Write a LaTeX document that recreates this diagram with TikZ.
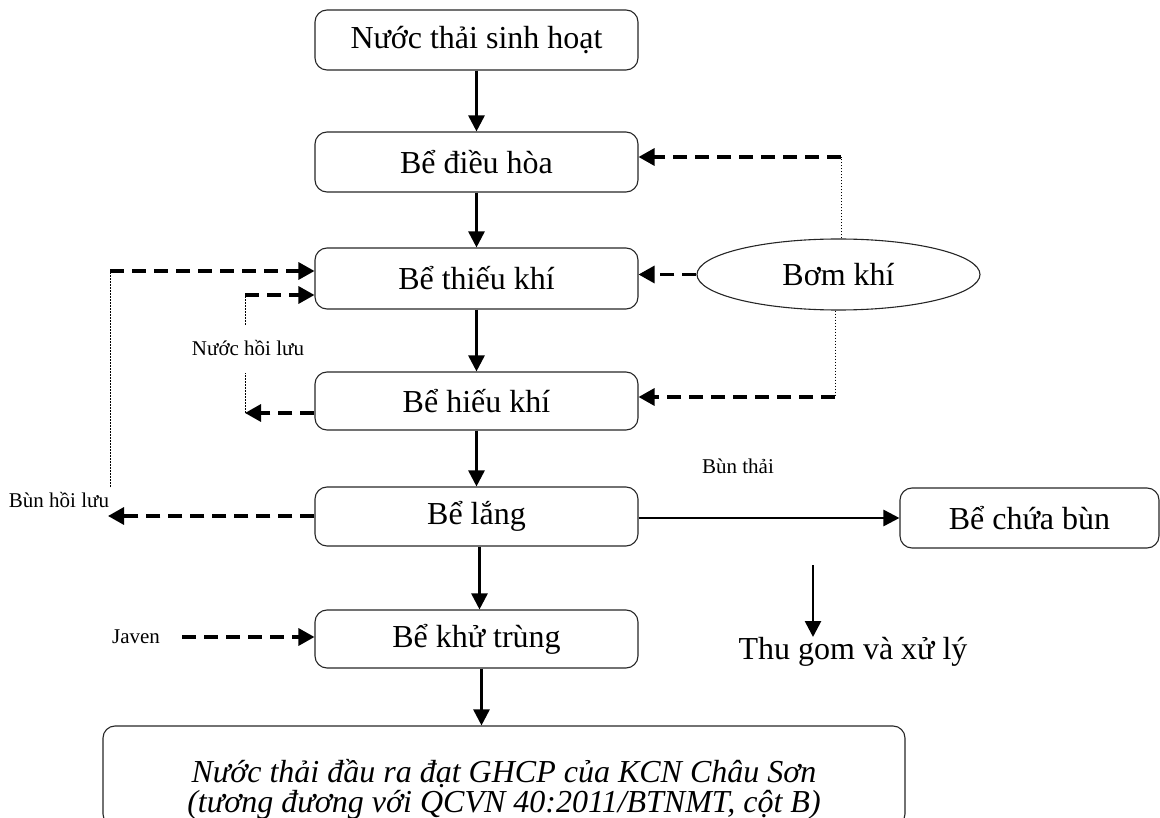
\documentclass[tikz,border=0pt]{standalone}
\usepackage{fontspec}
\setmainfont{Liberation Serif}
\usetikzlibrary{arrows.meta,shapes.geometric}
\tikzset{
  box/.style={draw=black!85, line width=1.1pt, rounded corners=12pt, minimum width=323pt, minimum height=60pt, inner sep=0pt, font=\fontsize{32}{36}\selectfont},
  solidarrow/.style={line width=2.7pt, -{Triangle[length=16pt,width=16pt]}},
  dasharrow/.style={line width=3.2pt, dash pattern=on 14pt off 8pt, -{Triangle[length=16pt,width=17pt]}},
  dotline/.style={line width=0.8pt, dash pattern=on 1.6pt off 1.4pt},
  small/.style={font=\fontsize{21}{24}\selectfont, inner sep=0pt},
  big/.style={font=\fontsize{32}{36}\selectfont, inner sep=0pt}
}
\begin{document}
\begin{tikzpicture}[x=1pt,y=-1pt]
\useasboundingbox (0,0) rectangle (1160,818);
% main boxes
\node[box] (b1) at (476.5,40) {Nước thải sinh hoạt};
\node[box] (b2) at (476.5,162) {Bể điều hòa};
\node[box, minimum height=61pt] (b3) at (476.5,278.5) {Bể thiếu khí};
\node[box, minimum height=58pt] (b4) at (476.5,401) {Bể hiếu khí};
\node[box, minimum height=59pt] (b5) at (476.5,516.5) {Bể lắng};
\node[box, minimum height=58pt] (b6) at (476.5,639) {Bể khử trùng};
\node[box, minimum width=802pt, minimum height=100pt] (b7) at (504,776) {};
\node[inner sep=0pt, font=\itshape\fontsize{32}{30}\selectfont, align=center] (b7t) at (504,789) {Nước thải đầu ra đạt GHCP của KCN Châu Sơn\\(tương đương với QCVN 40:2011/BTNMT, cột B)};
\node[box, minimum width=259pt] (b8) at (1029.5,518) {Bể chứa bùn};
\node[draw=black!85, line width=1.1pt, ellipse, minimum width=283pt, minimum height=71pt, inner sep=0pt, big] (pump) at (838.5,274.5) {Bơm khí};
% labels
\node[small] (lnuoc) at (248,348) {Nước hồi lưu};
\node[small] (lbun) at (59,500) {Bùn hồi lưu};
\node[small] (ljaven) at (136,637) {Javen};
\node[small] (lbunthai) at (738,466) {Bùn thải};
\node[big] (thu) at (853,652) {Thu gom và xử lý};
% main flow
\draw[solidarrow] (b1.south) -- (b2.north);
\draw[solidarrow] (b2.south) -- (b3.north);
\draw[solidarrow] (b3.south) -- (b4.north);
\draw[solidarrow] (b4.south) -- (b5.north);
\draw[solidarrow] ([xshift=3pt]b5.south) -- ([xshift=3pt]b6.north);
\draw[solidarrow] ([xshift=5pt]b6.south) -- ([xshift=5pt]b6.south |- b7.north);
\draw[solidarrow] (b5.east |- b8.west) -- (b8.west);
\coordinate (t1) at (813,565);
\coordinate (t2) at (813,637);
\draw[solidarrow] (t1) -- (t2);
% air pump
\coordinate (p2) at (841,157);
\draw[dotline] (pump.north -| p2) -- (p2);
\draw[dasharrow] (p2) -- (b2.east |- p2);
\draw[dasharrow] (pump.west) -- (b3.east |- pump.west);
\coordinate (p4) at (835,397);
\draw[dotline] (pump.south -| p4) -- (p4);
\draw[dasharrow] (p4) -- (b4.east |- p4);
% sludge return
\coordinate (r1) at (108,516);
\coordinate (r2) at (110,487);
\coordinate (r3) at (110,271);
\draw[dasharrow] (b5.west |- r1) -- (r1);
\draw[dotline] (r2) -- (r3);
\draw[dasharrow] (r3) -- (b3.west |- r3);
% water return
\coordinate (n1) at (245,413);
\coordinate (n1b) at (245,373);
\coordinate (n2b) at (245,325);
\coordinate (n2) at (245,295);
\draw[dasharrow] (b4.west |- n1) -- (n1);
\draw[dotline] (n1) -- (n1b);
\draw[dotline] (n2b) -- (n2);
\draw[dasharrow] (n2) -- (b3.west |- n2);
% javen
\coordinate (j1) at (182,637);
\draw[dasharrow] (j1) -- (b6.west |- j1);
\end{tikzpicture}
\end{document}
